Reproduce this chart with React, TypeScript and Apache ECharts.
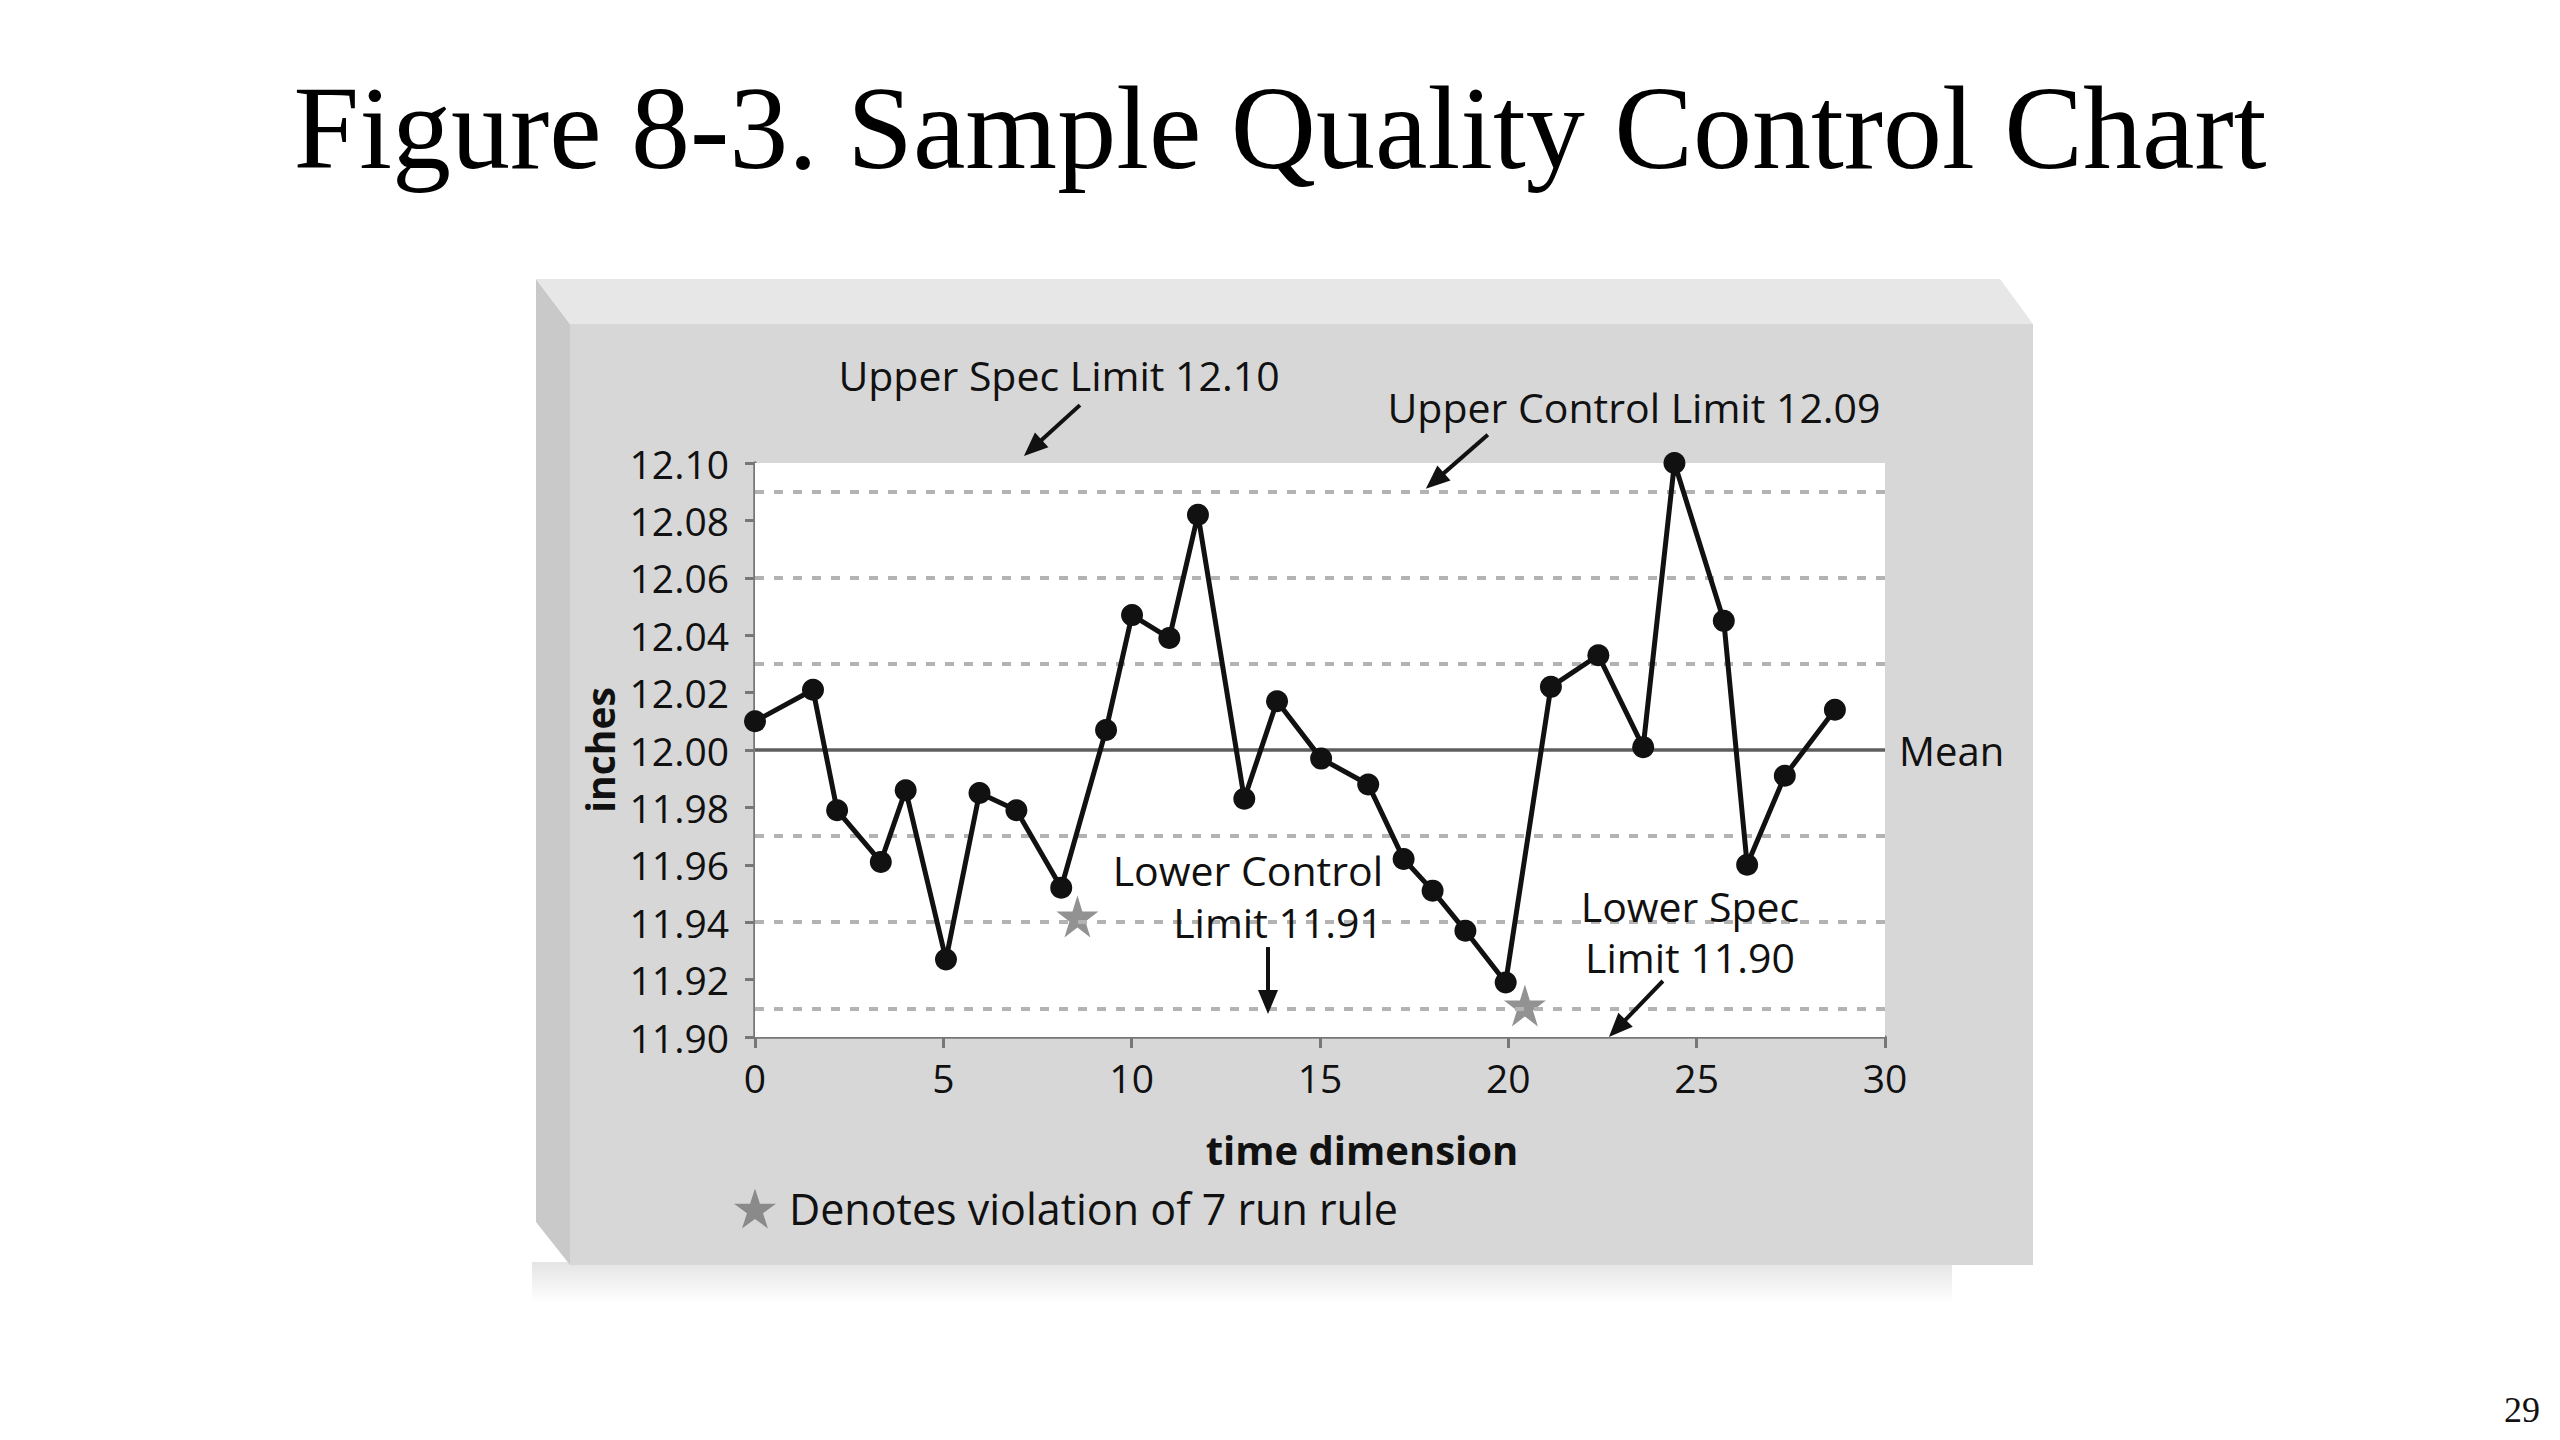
import React, { useEffect, useRef } from "react";
import * as echarts from "echarts";

// ---- data ----
const timeValues = [0, 1.54, 2.18, 3.34, 4.0, 5.07, 5.96, 6.94, 8.13, 9.32, 10.01, 11.0, 11.76, 12.99, 13.86, 15.03, 16.28, 17.22, 17.99, 18.86, 19.93, 21.13, 22.39, 23.58, 24.41, 25.72, 26.34, 27.34, 28.67];
const inchValues = [12.01, 12.021, 11.979, 11.961, 11.986, 11.927, 11.985, 11.979, 11.952, 12.007, 12.047, 12.039, 12.082, 11.983, 12.017, 11.997, 11.988, 11.962, 11.951, 11.937, 11.919, 12.022, 12.033, 12.001, 12.1, 12.045, 11.96, 11.991, 12.014];
const violationTimes = [8.56, 20.44];
const violationInches = [11.942, 11.911];
const sigmaLines = [12.09, 12.06, 12.03, 11.97, 11.94, 11.91];
const meanValue = 12.0;
const meanLabel = "Mean";
const legendLabel = "Denotes violation of 7 run rule";
const titleText = "Figure 8-3. Sample Quality Control Chart";
const pageNumber = "29";
const xAxisName = "time dimension";
const yAxisName = "inches";

// annotation arrows: tip in data coordinates
const arrowTips = [
  { label: "usl", tip: [7.14, 12.1024] },
  { label: "ucl", tip: [17.81, 12.091] },
  { label: "lcl", tip: [13.62, 11.908] },
  { label: "lsl", tip: [22.67, 11.9] },
];

const STAR =
  "path://M50 0 L61.23 34.55 L97.55 34.55 L68.16 55.9 L79.39 90.45 L50 69.1 L20.61 90.45 L31.84 55.9 L2.45 34.55 L38.77 34.55 Z";

const SANS = "Open Sans";
const SERIF = "Liberation Serif";
const INK = "#111111";

export default function App() {
  const ref = useRef<HTMLDivElement>(null);

  useEffect(() => {
    if (!ref.current) return;
    const chart = echarts.init(ref.current, undefined, { renderer: "svg" });

    const linePoints = timeValues.map((t, i) => [t, inchValues[i]]);
    const starPoints = violationTimes.map((t, i) => [t, violationInches[i]]);

    chart.setOption({
      animation: false,
      backgroundColor: "#ffffff",
      title: {
        text: titleText,
        left: "center",
        top: 64,
        textStyle: { fontFamily: SERIF, fontSize: 118, fontWeight: "normal", color: "#000" },
      },
      grid: {
        left: 755,
        top: 463,
        width: 1130,
        height: 574,
        show: true,
        backgroundColor: "#ffffff",
        borderWidth: 0,
        z: 1,
      },
      legend: {
        show: true,
        left: 729,
        top: 1182,
        itemWidth: 42,
        itemHeight: 42,
        data: [{ name: legendLabel, icon: STAR }],
        textStyle: { fontFamily: SANS, fontSize: 43, color: INK, padding: [0, 0, 0, 8] },
      },
      xAxis: {
        type: "value",
        min: 0,
        max: 30,
        interval: 5,
        name: xAxisName,
        nameLocation: "middle",
        nameGap: 92,
        nameTextStyle: {
          fontFamily: SANS,
          fontSize: 40,
          fontWeight: "bold",
          color: INK,
          padding: [0, 0, 0, 84],
        },
        axisLine: { show: true, onZero: false, lineStyle: { color: "#777777", width: 3.5 } },
        axisTick: { show: true, length: 11, lineStyle: { color: "#777777", width: 3 } },
        axisLabel: { fontFamily: SANS, fontSize: 39, color: INK, margin: 21 },
        splitLine: { show: false },
      },
      yAxis: {
        type: "value",
        min: 11.9,
        max: 12.1,
        interval: 0.02,
        name: yAxisName,
        nameLocation: "middle",
        nameRotate: 90,
        nameGap: 136,
        nameTextStyle: { fontFamily: SANS, fontSize: 39, fontWeight: "bold", color: INK },
        axisLine: { show: true, onZero: false, lineStyle: { color: "#777777", width: 3.5 } },
        axisTick: { show: true, length: 10, lineStyle: { color: "#777777", width: 3 } },
        axisLabel: {
          fontFamily: SANS,
          fontSize: 39,
          color: INK,
          margin: 26,
          formatter: (v: number) => v.toFixed(2),
        },
        splitLine: { show: false },
      },
      series: [
        {
          name: legendLabel,
          type: "scatter",
          data: starPoints,
          symbol: STAR,
          symbolSize: 42,
          itemStyle: { color: "#777777" },
          z: 3,
          clip: false,
          markLine: {
            silent: true,
            symbol: ["none", "none"],
            animation: false,
            data: [
              ...sigmaLines.map((v) => ({
                yAxis: v,
                lineStyle: { color: "#b3b3b3", width: 4, type: [9, 10] },
                label: { show: false },
              })),
              {
                yAxis: meanValue,
                lineStyle: { color: "#5e5e5e", width: 3.5, type: "solid" },
                label: {
                  show: true,
                  position: "end",
                  formatter: meanLabel,
                  distance: 14,
                  fontFamily: SANS,
                  fontSize: 40,
                  color: INK,
                },
              },
            ],
          },
        },
        {
          name: "measurements",
          type: "line",
          data: linePoints,
          symbol: "circle",
          symbolSize: 22,
          showSymbol: true,
          clip: false,
          lineStyle: { color: INK, width: 5 },
          itemStyle: { color: INK },
          z: 5,
        },
      ],
    });

    // ---- decorations & annotations ----
    const toPx = (p: number[]) =>
      chart.convertToPixel({ xAxisIndex: 0, yAxisIndex: 0 }, p) as number[];

    const arrowOffsets: Record<string, number[]> = {
      usl: [56, -51],
      ucl: [62, -54],
      lcl: [0, -67],
      lsl: [54, -56],
    };

    const arrows: any[] = [];
    arrowTips.forEach((a) => {
      const tip = toPx(a.tip);
      const off = arrowOffsets[a.label];
      const start = [tip[0] + off[0], tip[1] + off[1]];
      const dx = tip[0] - start[0];
      const dy = tip[1] - start[1];
      const len = Math.sqrt(dx * dx + dy * dy);
      const ux = dx / len;
      const uy = dy / len;
      const headLen = 24;
      const headHalf = 10;
      const base = [tip[0] - ux * headLen, tip[1] - uy * headLen];
      arrows.push({
        type: "line",
        z: 20,
        silent: true,
        shape: { x1: start[0], y1: start[1], x2: base[0] + ux * 2, y2: base[1] + uy * 2 },
        style: { stroke: INK, lineWidth: 4 },
      });
      arrows.push({
        type: "polygon",
        z: 20,
        silent: true,
        shape: {
          points: [
            [tip[0], tip[1]],
            [base[0] - uy * headHalf, base[1] + ux * headHalf],
            [base[0] + uy * headHalf, base[1] - ux * headHalf],
          ],
        },
        style: { fill: INK },
      });
    });

    const txt = (text: string, x: number, y: number, align: string, size = 41) => ({
      type: "text",
      z: 20,
      silent: true,
      x,
      y,
      style: {
        text,
        fill: INK,
        font: `${size}px "${SANS}"`,
        textAlign: align,
        textVerticalAlign: "middle",
      },
    });

    chart.setOption({
      graphic: [
        // 3D box: shadow, left face, top face, front face
        {
          type: "rect",
          z: -10,
          silent: true,
          shape: { x: 532, y: 1262, width: 1420, height: 40 },
          style: {
            fill: new echarts.graphic.LinearGradient(0, 0, 0, 1, [
              { offset: 0, color: "#e4e4e4" },
              { offset: 1, color: "#ffffff" },
            ]),
          },
        },
        {
          type: "polygon",
          z: -9,
          silent: true,
          shape: { points: [[536, 279], [570, 324], [570, 1265], [536, 1222]] },
          style: { fill: "#c9c9c9" },
        },
        {
          type: "polygon",
          z: -9,
          silent: true,
          shape: { points: [[536, 279], [2000, 279], [2033, 324], [570, 324]] },
          style: { fill: "#e7e7e7" },
        },
        {
          type: "rect",
          z: -9,
          silent: true,
          shape: { x: 570, y: 324, width: 1463, height: 941 },
          style: { fill: "#d7d7d7" },
        },
        ...arrows,
        txt("Upper Spec Limit 12.10", 1059, 375, "center"),
        txt("Upper Control Limit 12.09", 1634, 407, "center"),
        txt("Lower Control", 1383, 870, "right"),
        txt("Limit 11.91", 1383, 922, "right"),
        txt("Lower Spec", 1690, 906, "center"),
        txt("Limit 11.90", 1690, 957, "center"),
        {
          type: "text",
          z: 20,
          silent: true,
          x: 2522,
          y: 1410,
          style: {
            text: pageNumber,
            fill: INK,
            font: `36px "${SERIF}"`,
            textAlign: "center",
            textVerticalAlign: "middle",
          },
        },
      ],
    });

    return () => chart.dispose();
  }, []);

  return (
    <div
      ref={ref}
      style={{ position: "fixed", left: 0, top: 0, width: 2560, height: 1440, background: "#fff" }}
    />
  );
}
